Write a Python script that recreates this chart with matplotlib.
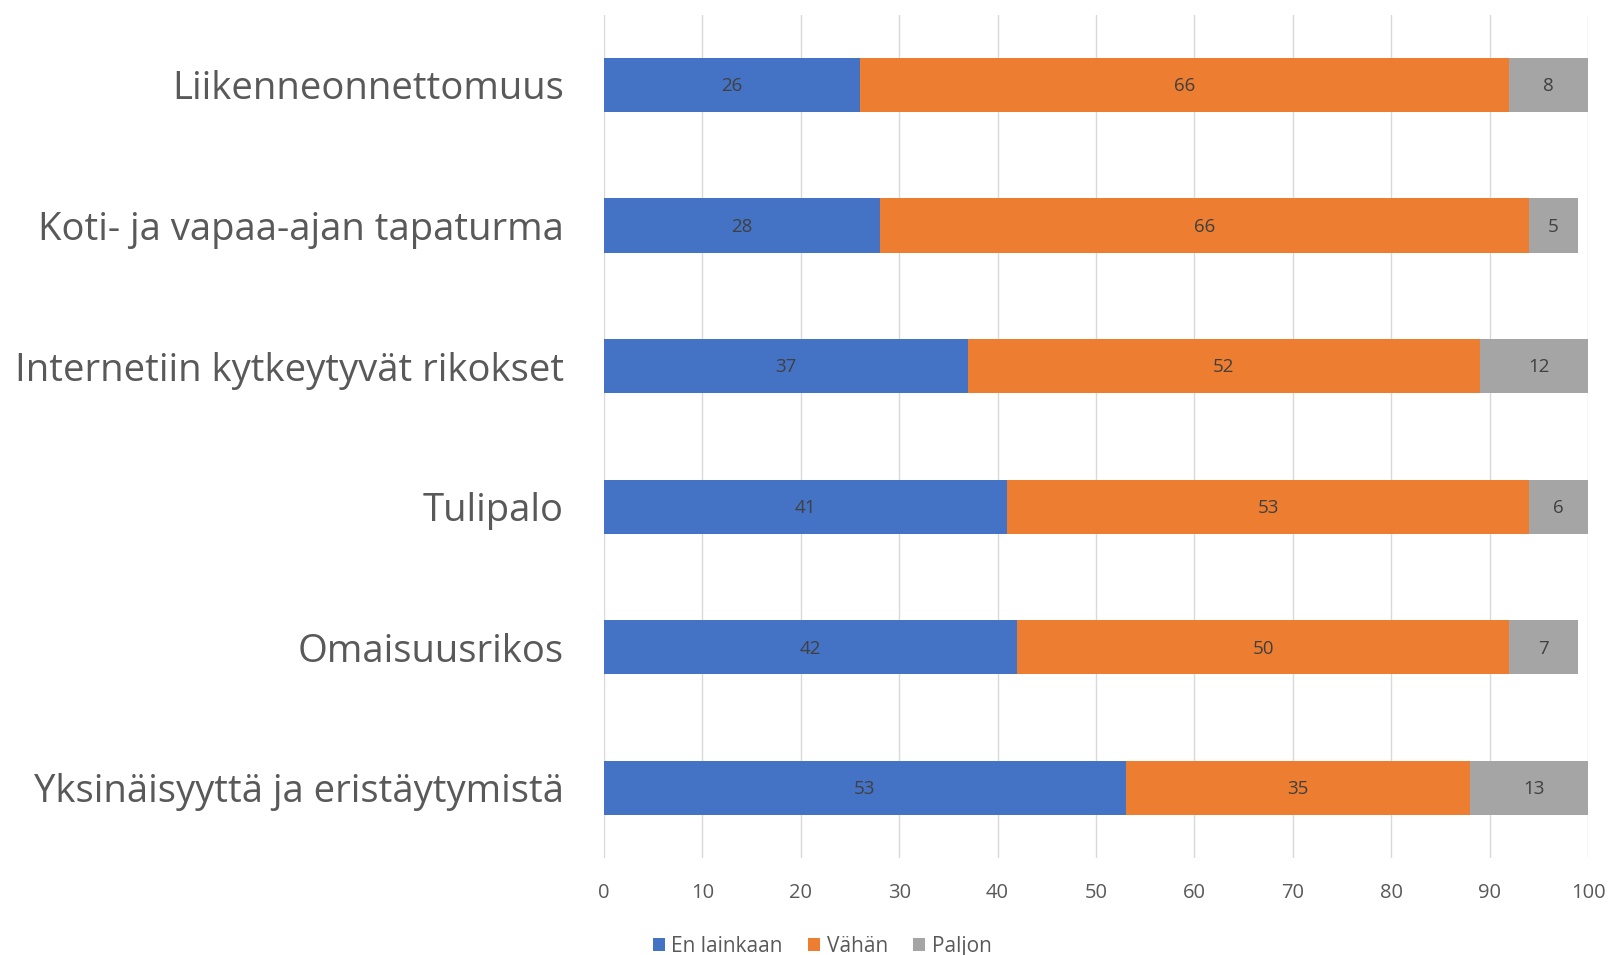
import numpy as np
import matplotlib.pyplot as plt

kategoriat = ["Liikenneonnettomuus", "Koti- ja vapaa-ajan tapaturma",
              "Internetiin kytkeytyvät rikokset", "Tulipalo",
              "Omaisuusrikos", "Yksinäisyyttä ja eristäytymistä"]
en_lainkaan = [26, 28, 37, 41, 42, 53]
vahan = [66, 66, 52, 53, 50, 35]
paljon = [8, 5, 12, 6, 7, 13]
sarjat = ["En lainkaan", "Vähän", "Paljon"]
varit = ["#4472C4", "#ED7D31", "#A5A5A5"]
xtiks = [0, 10, 20, 30, 40, 50, 60, 70, 80, 90, 100]

plt.rcParams['font.family'] = ['Open Sans', 'DejaVu Sans']

fig = plt.figure(figsize=(16.11, 9.55), dpi=100)
ax = fig.add_axes([604/1611, 1-858/955, (1588-604)/1611, (858-14.7)/955])

y = np.arange(len(kategoriat))
vasen = np.zeros(len(kategoriat))
kahvat = []
for arvot, nimi, vari in zip([en_lainkaan, vahan, paljon], sarjat, varit):
    arvot = np.array(arvot, dtype=float)
    b = ax.barh(y, arvot, left=vasen, height=0.385, color=vari, label=nimi, zorder=3)
    kahvat.append(b)
    for yi, l, a in zip(y, vasen, arvot):
        ax.text(l + a/2, yi + 0.01, str(int(a)), ha='center', va='center',
                fontsize=13.5, color='#404040', zorder=4)
    vasen += arvot

ax.set_xlim(0, 100)
ax.set_ylim(len(kategoriat) - 0.5, -0.5)
ax.set_yticks(y)
ax.set_yticklabels(kategoriat, fontsize=27.5, color='#595959')
ax.set_xticks(xtiks)
ax.set_xticklabels([str(t) for t in xtiks], fontsize=14.5, color='#595959')
ax.tick_params(axis='both', length=0)
ax.tick_params(axis='y', pad=29)
ax.tick_params(axis='x', pad=18)
ax.grid(axis='x', color='#D9D9D9', linewidth=1, zorder=0)
for s in ax.spines.values():
    s.set_visible(False)

fig.legend(handles=kahvat, labels=sarjat, loc='center', ncol=3,
           bbox_to_anchor=(822/1611, 1-946/955), frameon=False,
           fontsize=15, labelcolor='#595959', handlelength=0.6,
           handleheight=0.6, handletextpad=0.3, columnspacing=1.2)

fig.savefig("out.png", dpi=100)
